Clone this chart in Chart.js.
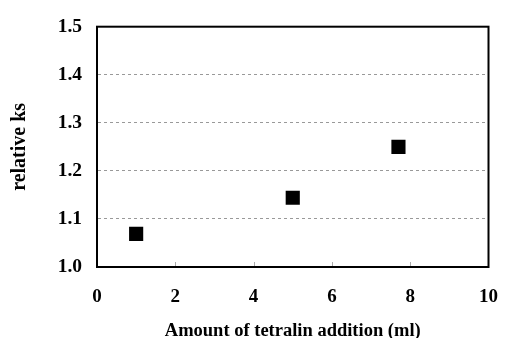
<!DOCTYPE html>
<html>
<head>
<meta charset="utf-8">
<script src="https://cdn.jsdelivr.net/npm/chart.js@4/dist/chart.umd.min.js"></script>
<style>
  html, body { margin: 0; padding: 0; background: #fff; }
  #wrap { width: 517px; height: 338px; }
</style>
</head>
<body>
<div id="wrap"><canvas id="ksChart" width="517" height="338"></canvas></div>
<script>
// data
const tetralinMl = [1, 5, 7.7];
const relativeKs = [1.069, 1.144, 1.25];
const xTicks = [0, 2, 4, 6, 8, 10];
const yTicks = [1.0, 1.1, 1.2, 1.3, 1.4, 1.5];

const serif = 'Liberation Serif, "Times New Roman", serif';

// frame around plot + small inner ticks on bottom axis
const framePlugin = {
    id: 'frame',
    afterDraw(chart) {
        const { ctx, chartArea: a, scales } = chart;
        ctx.save();
        ctx.strokeStyle = '#aaa';
        ctx.lineWidth = 1;
        xTicks.slice(1, -1).forEach(v => {
            const px = Math.round(scales.x.getPixelForValue(v)) + 0.5;
            ctx.beginPath();
            ctx.moveTo(px, a.bottom);
            ctx.lineTo(px, a.bottom - 5);
            ctx.stroke();
        });
        ctx.strokeStyle = '#000';
        ctx.lineWidth = 2;
        ctx.strokeRect(a.left, a.top, a.right - a.left, a.bottom - a.top);
        ctx.restore();
    }
};

const ctx = document.getElementById('ksChart').getContext('2d');
new Chart(ctx, {
    type: 'scatter',
    data: {
        datasets: [{
            label: 'relative ks',
            data: tetralinMl.map((x, i) => ({ x: x, y: relativeKs[i] })),
            pointStyle: 'rect',
            pointRadius: 10,
            pointHoverRadius: 10,
            backgroundColor: '#000',
            borderColor: '#000',
            borderWidth: 0
        }]
    },
    options: {
        responsive: false,
        animation: false,
        layout: { padding: { top: 21, right: 10, bottom: 0, left: 0 } },
        plugins: {
            legend: { display: false },
            tooltip: { enabled: false }
        },
        scales: {
            x: {
                type: 'linear',
                min: 0,
                max: 10,
                afterBuildTicks: s => { s.ticks = xTicks.map(v => ({ value: v })); },
                afterFit: s => { s.height = 71; },
                grid: { display: false, drawTicks: false },
                border: { display: true, color: '#000', width: 2 },
                ticks: {
                    color: '#000',
                    padding: 19,
                    font: { family: serif, size: 19, weight: 'bold' }
                },
                title: {
                    display: true,
                    text: 'Amount of tetralin addition (ml)',
                    color: '#000',
                    font: { family: serif, size: 18.5, weight: 'bold', lineHeight: 1 },
                    padding: { top: 0, bottom: -2 }
                }
            },
            y: {
                type: 'linear',
                min: 1.0,
                max: 1.5,
                afterBuildTicks: s => { s.ticks = yTicks.map(v => ({ value: v })); },
                afterFit: s => { s.width = 97; },
                grid: {
                    drawTicks: false,
                    color: c => (c.tick && (c.tick.value <= 1.0001 || c.tick.value >= 1.4999)) ? 'rgba(0,0,0,0)' : '#999',
                    lineWidth: 1
                },
                border: { display: true, color: '#000', width: 2, dash: [3, 3] },
                ticks: {
                    color: '#000',
                    padding: 15,
                    font: { family: serif, size: 19.5, weight: 'bold' },
                    callback: v => Number(v).toFixed(1)
                },
                title: {
                    display: true,
                    text: 'relative ks',
                    color: '#000',
                    font: { family: serif, size: 20, weight: 'bold', lineHeight: 1 },
                    padding: { top: 10, bottom: 0 }
                }
            }
        }
    },
    plugins: [framePlugin]
});
</script>
</body>
</html>
